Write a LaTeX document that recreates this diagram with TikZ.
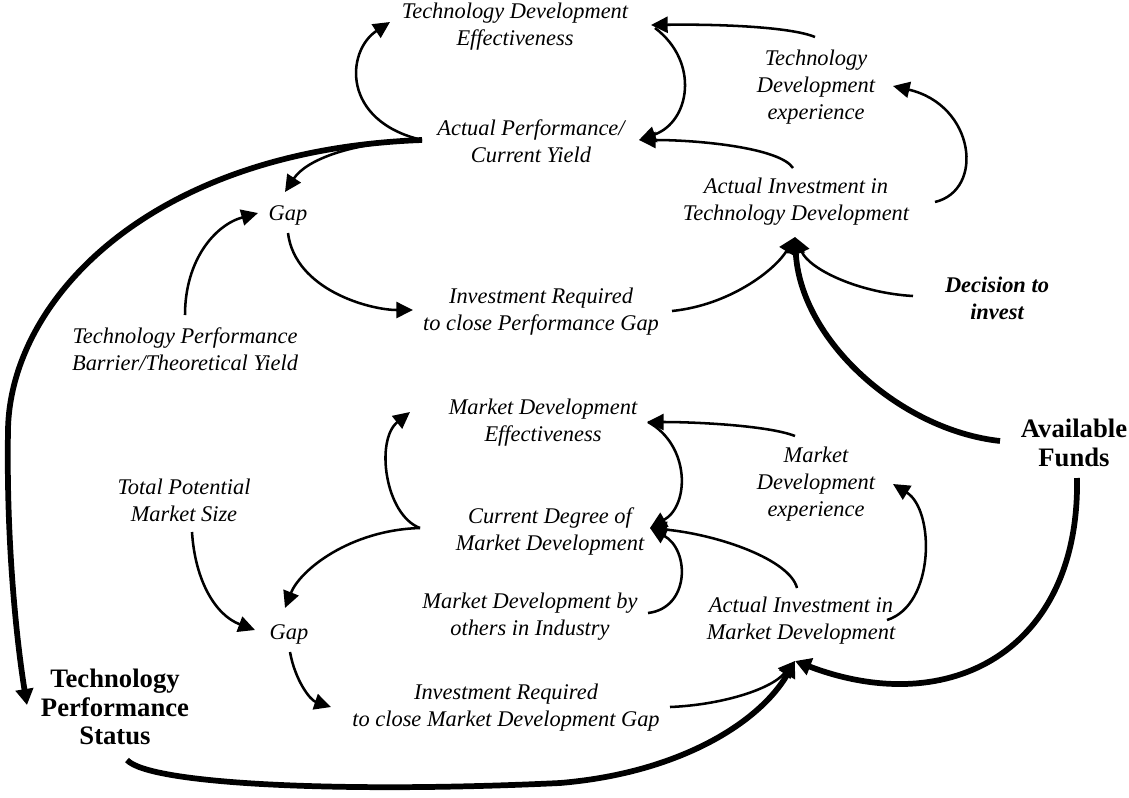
\documentclass[tikz,border=0pt]{standalone}
\usepackage{fontspec}
\setmainfont{Liberation Serif}
\usetikzlibrary{arrows.meta,calc}
\begin{document}
\begin{tikzpicture}[x=0.75pt,y=-0.75pt,
  lbl/.style={align=center,inner sep=0pt,font=\fontsize{16.8}{20.25}\selectfont\itshape},
  blbl/.style={align=center,inner sep=0pt,font=\fontsize{16.8}{20.25}\selectfont\bfseries\itshape},
  big/.style={align=center,inner sep=0pt,font=\fontsize{20}{21.5}\selectfont\bfseries},
  arr/.style={line width=1.9pt,-{Triangle[length=12.5pt,width=12pt]}},
  tarr/.style={line width=4.3pt,-{Triangle[length=12pt,width=13pt]}}]
\useasboundingbox (0,0) rectangle (1129,797);
% nodes
\node[lbl] (tde) at (515,27) {Technology Development\\Effectiveness};
\node[lbl] (apy) at (531,141) {Actual Performance/\\Current Yield};
\node[lbl] (tdx) at (816,87) {Technology\\Development\\experience};
\node[lbl] (aitd) at (796,202) {Actual Investment in\\Technology Development};
\node[lbl] (gapA) at (288,215) {Gap};
\node[lbl] (irpg) at (541,312) {Investment Required\\to close Performance Gap};
\node[lbl] (tpb) at (185,349) {Technology Performance\\Barrier/Theoretical Yield};
\node[blbl] (dti) at (997,298) {Decision to\\invest};
\node[big] (af) at (1074,443) {Available\\Funds};
\node[lbl] (mde) at (543,423) {Market Development\\Effectiveness};
\node[lbl] (cdmd) at (550,531) {Current Degree of\\Market Development};
\node[lbl] (mdx) at (816,484) {Market\\Development\\experience};
\node[lbl] (tpms) at (184,500) {Total Potential\\Market Size};
\node[lbl] (mdo) at (530,617) {Market Development by\\others in Industry};
\node[lbl] (aimd) at (801,621) {Actual Investment in\\Market Development};
\node[lbl] (gapB) at (289,634) {Gap};
\node[lbl] (irmd) at (506,708) {Investment Required\\to close Market Development Gap};
\node[big] (tps) at (115,707) {Technology\\Performance\\Status};
% technology loop
\draw[arr] ($(apy)+(-109,-1)$) .. controls ($(apy)+(-190,-20)$) and ($(apy)+(-185,-90)$) .. ($(tde)+(-125,-5)$);
\draw[arr] ($(tde)+(140,1)$) .. controls ($(tde)+(185,35)$) and ($(tde)+(175,95)$) .. ($(apy)+(108,-1)$);
\draw[arr] ($(tdx)+(-1,-50)$) .. controls ($(tdx)+(-25,-60)$) and ($(tdx)+(-95,-63)$) .. ($(tde)+(136,-2)$);
\draw[arr] ($(aitd)+(139,0)$) .. controls ($(aitd)+(189,-12)$) and ($(aitd)+(179,-97)$) .. ($(tdx)+(77,-1)$);
\draw[arr] ($(aitd)+(-3,-34)$) .. controls ($(aitd)+(-16,-54)$) and ($(aitd)+(-96,-62)$) .. ($(apy)+(108,-1)$);
\draw[arr] ($(apy)+(-109,-1)$) .. controls ($(apy)+(-180,1)$) and ($(apy)+(-225,19)$) .. ($(gapA)+(-3,-23)$);
\draw[arr] ($(tpb)+(0,-34)$) .. controls ($(tpb)+(0,-89)$) and ($(tpb)+(30,-124)$) .. ($(gapA)+(-30,-2)$);
\draw[arr] ($(gapA)+(0,18)$) .. controls ($(gapA)+(7,75)$) and ($(gapA)+(82,95)$) .. ($(irpg)+(-128,-2)$);
\draw[arr] ($(irpg)+(131,-1)$) .. controls ($(irpg)+(189,-7)$) and ($(irpg)+(234,-42)$) .. ($(aitd)+(-1,35)$);
\draw[arr] ($(dti)+(-84,-2)$) .. controls ($(dti)+(-137,-5)$) and ($(dti)+(-187,-28)$) .. ($(aitd)+(-1,35)$);
\draw[tarr] ($(af)+(-74,-2)$) .. controls ($(af)+(-174,-13)$) and ($(af)+(-274,-103)$) .. ($(aitd)+(-1,35)$);
\draw[tarr] ($(apy)+(-109,-1)$) .. controls ($(apy)+(-381,9)$) and ($(apy)+(-521,159)$) .. (8,430)
  .. controls (6,550) and (18,650) .. ($(tps)+(-88,-2)$);
% market loop
\draw[arr] ($(cdmd)+(-130,-3)$) .. controls ($(cdmd)+(-165,-16)$) and ($(cdmd)+(-175,-91)$) .. ($(mde)+(-133,-11)$);
\draw[arr] ($(mde)+(105,-1)$) .. controls ($(mde)+(147,22)$) and ($(mde)+(147,82)$) .. ($(cdmd)+(100,-3)$);
\draw[arr] ($(mdx)+(-21,-48)$) .. controls ($(mdx)+(-46,-58)$) and ($(mdx)+(-116,-62)$) .. ($(mde)+(104,-1)$);
\draw[arr] ($(aimd)+(86,-1)$) .. controls ($(aimd)+(134,-16)$) and ($(aimd)+(134,-111)$) .. ($(mdx)+(77,0)$);
\draw[arr] ($(aimd)+(-4,-33)$) .. controls ($(aimd)+(-11,-61)$) and ($(aimd)+(-81,-86)$) .. ($(cdmd)+(100,-3)$);
\draw[arr] ($(mdo)+(118,-4)$) .. controls ($(mdo)+(160,-9)$) and ($(mdo)+(160,-67)$) .. ($(cdmd)+(100,-3)$);
\draw[arr] ($(cdmd)+(-130,-3)$) .. controls ($(cdmd)+(-200,-1)$) and ($(cdmd)+(-250,39)$) .. ($(gapB)+(-4,-26)$);
\draw[arr] ($(tpms)+(8,32)$) .. controls ($(tpms)+(11,80)$) and ($(tpms)+(31,115)$) .. ($(gapB)+(-34,-4)$);
\draw[arr] ($(gapB)+(1,18)$) .. controls ($(gapB)+(6,46)$) and ($(gapB)+(21,66)$) .. ($(irmd)+(-175,-1)$);
\draw[arr] ($(irmd)+(164,-1)$) .. controls ($(irmd)+(214,-3)$) and ($(irmd)+(264,-18)$) .. ($(aimd)+(-6,40)$);
\draw[tarr] ($(af)+(3,35)$) .. controls ($(af)+(6,207)$) and ($(af)+(-124,277)$) .. ($(aimd)+(-6,40)$);
\draw[tarr] ($(tps)+(12,53)$) .. controls ($(tps)+(35,78)$) and ($(tps)+(235,86)$) .. (560,783)
  .. controls (680,773) and (760,722) .. ($(aimd)+(-6,40)$);
\end{tikzpicture}
\end{document}
